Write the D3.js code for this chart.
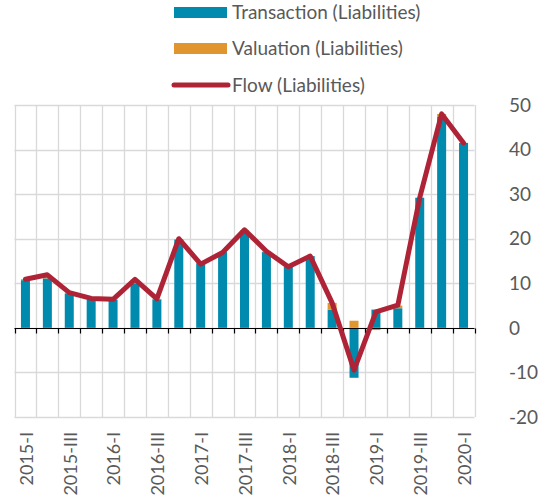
<!DOCTYPE html>
<html><head><meta charset="utf-8">
<script src="https://cdn.jsdelivr.net/npm/d3@7"></script>
<style>body{margin:0;background:#fff}svg{display:block}text{font-family:Lato,"Open Sans",sans-serif;fill:#595959}</style>
</head><body><svg id="c" width="539" height="502"></svg>
<script>
const categories = ["2015-I","2015-II","2015-III","2015-IV","2016-I","2016-II","2016-III","2016-IV","2017-I","2017-II","2017-III","2017-IV","2018-I","2018-II","2018-III","2018-IV","2019-I","2019-II","2019-III","2019-IV","2020-I"];
const transaction = [10.7,11.1,7.6,6.3,6.3,10.0,6.4,19.8,14.5,17.0,21.5,17.0,13.7,16.1,4.1,-11.2,4.1,4.4,29.2,47.4,41.5];
const valuation   = [0.2,0.6,0.3,0.2,0.1,0.8,0.1,0.1,-0.2,-0.1,0.4,0.1,0.0,0.0,1.5,1.6,-0.5,0.6,0.0,0.6,0.0];
const flow        = [10.9,11.9,7.9,6.6,6.4,10.9,6.5,20.0,14.3,16.9,22.0,17.2,13.7,16.1,5.6,-9.5,3.6,5.1,29.2,48.0,41.5];
const yTicks = [50,40,30,20,10,0,-10,-20];
const legendLabels = ["Transaction (Liabilities)","Valuation (Liabilities)","Flow (Liabilities)"];
const colors = {transaction:"#008aad", valuation:"#e0952f", flow:"#ae2436"};

const svg = d3.select("#c");
const x = d3.scaleBand().domain(categories).range([14.5,474.5]).paddingInner(0).paddingOuter(0);
const y = d3.scaleLinear().domain([-20,50]).range([417,105]);
const g = svg.append("g");

// gridlines
g.selectAll("line.h").data(yTicks).join("line")
 .attr("x1",14.5).attr("x2",474.5).attr("y1",d=>Math.round(y(d))+0.5).attr("y2",d=>Math.round(y(d))+0.5)
 .attr("stroke","#d9d9d9").attr("stroke-width",1.3);
const bounds = categories.map(c=>x(c)).concat([x.range()[1]]);
g.selectAll("line.v").data(bounds).join("line")
 .attr("x1",d=>Math.round(d)+0.5).attr("x2",d=>Math.round(d)+0.5).attr("y1",y(50)).attr("y2",y(-20))
 .attr("stroke","#d9d9d9").attr("stroke-width",1.3);

// stacked bars
const rows = categories.map((c,i)=>({cat:c, transaction:transaction[i], valuation:valuation[i]}));
const stack = d3.stack().keys(["transaction","valuation"]).offset(d3.stackOffsetDiverging)(rows);
const bw = 9;
stack.forEach(layer=>{
  g.selectAll(null).data(layer).join("rect")
   .attr("x",d=>x(d.data.cat)+x.bandwidth()/2-bw/2)
   .attr("width",bw)
   .attr("y",d=>y(Math.max(d[0],d[1])))
   .attr("height",d=>Math.abs(y(d[0])-y(d[1])))
   .attr("fill",colors[layer.key]);
});

// zero axis
const y0 = Math.round(y(0))+0.5;
g.append("line").attr("x1",14.5).attr("x2",474.5).attr("y1",y0).attr("y2",y0).attr("stroke","#000").attr("stroke-width",1.2);
g.selectAll("line.t").data(bounds).join("line")
 .attr("x1",d=>Math.round(d)+0.5).attr("x2",d=>Math.round(d)+0.5).attr("y1",y0).attr("y2",y0+5)
 .attr("stroke","#000").attr("stroke-width",1.2);

// flow line
const line = d3.line().x((d,i)=>x(categories[i])+x.bandwidth()/2).y(d=>y(d));
g.append("path").datum(flow).attr("d",line).attr("fill","none")
 .attr("stroke",colors.flow).attr("stroke-width",5).attr("stroke-linejoin","round").attr("stroke-linecap","round");

// right axis labels
g.selectAll("text.yl").data(yTicks).join("text")
 .attr("x",509).attr("y",d=>y(d)).attr("dy","0.35em").attr("font-size",19).text(d=>d);

// x labels
categories.forEach((c,i)=>{
  if(i%2!==0) return;
  const cx = x(c)+x.bandwidth()/2 + 1;
  g.append("text").attr("transform",`translate(${cx},432) rotate(-90)`)
   .attr("text-anchor","end").attr("dy","0.35em").attr("font-size",18).text(c);
});

// legend
const ly = [12.5,48.5,85];
svg.append("rect").attr("x",174).attr("y",ly[0]-5.5).attr("width",53).attr("height",11).attr("fill",colors.transaction);
svg.append("rect").attr("x",174).attr("y",ly[1]-5.5).attr("width",53).attr("height",11).attr("fill",colors.valuation);
svg.append("line").attr("x1",174).attr("x2",228).attr("y1",ly[2]).attr("y2",ly[2]).attr("stroke",colors.flow).attr("stroke-width",5).attr("stroke-linecap","round");
legendLabels.forEach((t,i)=>svg.append("text").attr("x",232).attr("y",ly[i]).attr("dy","0.35em").attr("font-size",19).text(t));
</script></body></html>
